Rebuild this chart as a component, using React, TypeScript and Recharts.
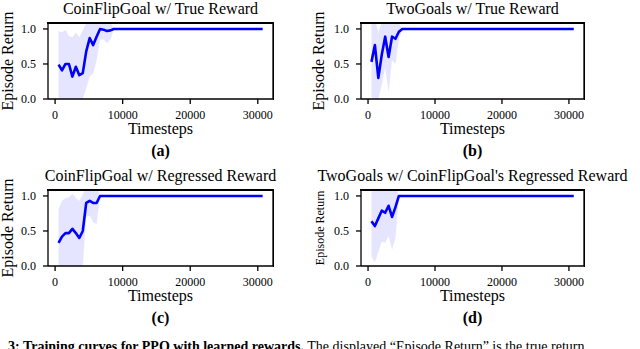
import React from "react";
import {
  ComposedChart,
  Area,
  Line,
  XAxis,
  YAxis,
  CartesianGrid,
} from "recharts";

// (a) CoinFlipGoal w/ True Reward
const STEPS_A = [512, 1024, 1536, 2048, 2560, 3072, 3584, 4096, 4608, 5120, 5632, 6144, 6656, 7168, 7680, 8192, 8704, 30720];
const MEAN_A = [0.49, 0.41, 0.5, 0.5, 0.32, 0.46, 0.34, 0.37, 0.68, 0.87, 0.77, 0.89, 1.0, 0.99, 0.97, 0.98, 1.0, 1.0];
const LOW_A = [0.02, 0.0, 0.0, 0.0, 0.0, 0.0, 0.0, 0.0, 0.15, 0.32, 0.36, 0.55, 0.85, 0.85, 0.8, 0.85, 1.0, 1.0];
const HIGH_A = [0.97, 0.95, 0.99, 0.9, 0.88, 0.95, 0.88, 0.98, 1.08, 1.1, 1.1, 1.1, 1.1, 1.1, 1.1, 1.1, 1.0, 1.0];

// (b) TwoGoals w/ True Reward
const STEPS_B = [512, 1024, 1536, 2048, 2560, 3072, 3584, 4096, 4608, 5120, 30720];
const MEAN_B = [0.53, 0.77, 0.3, 0.63, 0.89, 0.6, 0.89, 0.86, 0.96, 1.0, 1.0];
const LOW_B = [0.03, 0.0, 0.0, 0.2, 0.45, 0.1, 0.55, 0.5, 0.85, 1.0, 1.0];
const HIGH_B = [1.1, 1.15, 0.95, 1.1, 1.15, 1.1, 1.15, 1.1, 1.08, 1.0, 1.0];

// (c) CoinFlipGoal w/ Regressed Reward
const STEPS_C = [512, 1024, 1536, 2048, 2560, 3072, 3584, 4096, 4608, 5120, 5632, 6144, 6656, 30720];
const MEAN_C = [0.33, 0.42, 0.47, 0.47, 0.53, 0.47, 0.4, 0.5, 0.9, 0.93, 0.9, 0.9, 1.0, 1.0];
const LOW_C = [0.0, 0.0, 0.0, 0.0, 0.0, 0.0, 0.0, 0.0, 0.7, 0.72, 0.62, 0.6, 1.0, 1.0];
const HIGH_C = [0.81, 0.93, 0.97, 0.98, 1.03, 0.97, 0.93, 1.02, 1.15, 1.15, 1.15, 1.15, 1.0, 1.0];

// (d) TwoGoals w/ CoinFlipGoal's Regressed Reward
const STEPS_D = [512, 1024, 1536, 2048, 2560, 3072, 3584, 4096, 4608, 30720];
const MEAN_D = [0.64, 0.57, 0.68, 0.79, 0.76, 0.86, 0.7, 0.84, 1.0, 1.0];
const LOW_D = [0.14, 0.05, 0.2, 0.35, 0.33, 0.43, 0.23, 0.4, 1.0, 1.0];
const HIGH_D = [1.12, 1.1, 1.15, 1.15, 1.15, 1.15, 1.15, 1.15, 1.0, 1.0];

const X_TICKS = [0, 10000, 20000, 30000];
const Y_TICKS = [0, 0.5, 1.0];
const X_DOMAIN = [-1050, 32250];
const Y_DOMAIN = [0, 1.085];

const FONT = '"Liberation Serif", "Times New Roman", serif';

type PanelProps = {
  title: string;
  letter: string;
  steps: number[];
  mean: number[];
  low: number[];
  high: number[];
  left: number;
  top: number;
  width: number;
  yAxisWidth: number;
  marginTop: number;
  marginRight: number;
  labelOffset: number;
  labelSize: number;
};

function Panel(p: PanelProps) {
  const rows = p.steps.map((t, i) => ({ t, mean: p.mean[i], band: [p.low[i], p.high[i]] }));
  const plotH = 76;
  const xAxisH = 40;
  const height = p.marginTop + plotH + xAxisH;
  const plotLeft = p.left + p.yAxisWidth;
  const plotRight = p.left + p.width - p.marginRight;
  const center = (plotLeft + plotRight) / 2;
  const plotTop = p.top + p.marginTop;
  const plotBottom = plotTop + plotH;

  return (
    <div>
      <div
        style={{
          position: "absolute",
          left: center - 160,
          width: 320,
          top: plotTop - 23,
          textAlign: "center",
          fontSize: 16,
          lineHeight: "17px",
          whiteSpace: "nowrap",
        }}
      >
        {p.title}
      </div>
      <div
        style={{
          position: "absolute",
          left: center - 30,
          width: 60,
          top: plotBottom + 43,
          textAlign: "center",
          fontSize: 16,
          fontWeight: "bold",
          lineHeight: "18px",
        }}
      >
        {p.letter}
      </div>
      <div style={{ position: "absolute", left: p.left, top: p.top }}>
        <ComposedChart
          width={p.width}
          height={height}
          data={rows}
          style={{ fontFamily: FONT }}
          margin={{ top: p.marginTop, right: p.marginRight, bottom: 0, left: 0 }}
        >
          {/* top and right spines of the axes box */}
          <CartesianGrid
            horizontalPoints={[p.marginTop]}
            verticalPoints={[p.width - p.marginRight]}
            stroke="#000"
            strokeWidth={1.3}
            strokeDasharray="0"
          />
          <XAxis
            dataKey="t"
            type="number"
            domain={X_DOMAIN}
            allowDataOverflow
            ticks={X_TICKS}
            tickSize={5}
            tickMargin={6}
            height={xAxisH}
            stroke="#000"
            strokeWidth={1.3}
            tick={{ fill: "#000", fontSize: 12, fontFamily: FONT }}
            label={{
              value: "Timesteps",
              position: "insideBottom",
              offset: 5,
              style: { fill: "#000", fontSize: 16, fontFamily: FONT },
            }}
          />
          <YAxis
            type="number"
            domain={Y_DOMAIN}
            allowDataOverflow
            ticks={Y_TICKS}
            tickFormatter={(v: number) => v.toFixed(1)}
            tickSize={5}
            tickMargin={7}
            width={p.yAxisWidth}
            stroke="#000"
            strokeWidth={1.3}
            tick={{ fill: "#000", fontSize: 12, fontFamily: FONT }}
            label={{
              value: "Episode Return",
              angle: -90,
              position: "insideLeft",
              offset: p.labelOffset,
              style: { fill: "#000", fontSize: p.labelSize, fontFamily: FONT, textAnchor: "middle" },
            }}
          />
          <Area
            dataKey="band"
            type="linear"
            stroke="none"
            fill="#0000ff"
            fillOpacity={0.1}
            isAnimationActive={false}
          />
          <Line
            dataKey="mean"
            type="linear"
            stroke="#0000ff"
            strokeWidth={2.6}
            strokeLinejoin="round"
            dot={false}
            isAnimationActive={false}
          />
        </ComposedChart>
      </div>
      {/* top and right spines, drawn again above the svg */}
      <div
        style={{
          position: "absolute",
          left: plotLeft - 1,
          top: plotTop - 1,
          width: plotRight - plotLeft + 2,
          height: 1.5,
          background: "#000",
          zIndex: 10,
        }}
      />
      <div
        style={{
          position: "absolute",
          left: plotRight - 0.5,
          top: plotTop - 1,
          width: 1.5,
          height: plotH + 2,
          background: "#000",
          zIndex: 10,
        }}
      />
    </div>
  );
}

export default function App() {
  return (
    <div
      style={{
        position: "absolute",
        left: 0,
        top: 0,
        width: 640,
        height: 349,
        overflow: "hidden",
        background: "#fff",
        fontFamily: FONT,
        color: "#000",
      }}
    >
      <Panel
        title="CoinFlipGoal w/ True Reward"
        letter="(a)"
        steps={STEPS_A}
        mean={MEAN_A}
        low={LOW_A}
        high={HIGH_A}
        left={0}
        top={0}
        width={320}
        yAxisWidth={48}
        marginTop={23}
        marginRight={47}
        labelOffset={7}
        labelSize={16}
      />
      <Panel
        title="TwoGoals w/ True Reward"
        letter="(b)"
        steps={STEPS_B}
        mean={MEAN_B}
        low={LOW_B}
        high={HIGH_B}
        left={300}
        top={0}
        width={340}
        yAxisWidth={61}
        marginTop={23}
        marginRight={56}
        labelOffset={18}
        labelSize={16}
      />
      <Panel
        title="CoinFlipGoal w/ Regressed Reward"
        letter="(c)"
        steps={STEPS_C}
        mean={MEAN_C}
        low={LOW_C}
        high={HIGH_C}
        left={0}
        top={167}
        width={320}
        yAxisWidth={48}
        marginTop={23}
        marginRight={47}
        labelOffset={7}
        labelSize={16}
      />
      <Panel
        title="TwoGoals w/ CoinFlipGoal's Regressed Reward"
        letter="(d)"
        steps={STEPS_D}
        mean={MEAN_D}
        low={LOW_D}
        high={HIGH_D}
        left={300}
        top={167}
        width={340}
        yAxisWidth={61}
        marginTop={23}
        marginRight={56}
        labelOffset={20}
        labelSize={12}
      />
      <div
        style={{
          position: "absolute",
          left: 8,
          top: 339,
          fontSize: 14,
          lineHeight: "16px",
          whiteSpace: "nowrap",
        }}
      >
        <b>3: Training curves for PPO with learned rewards.</b> The displayed “Episode Return” is the true return
      </div>
    </div>
  );
}
